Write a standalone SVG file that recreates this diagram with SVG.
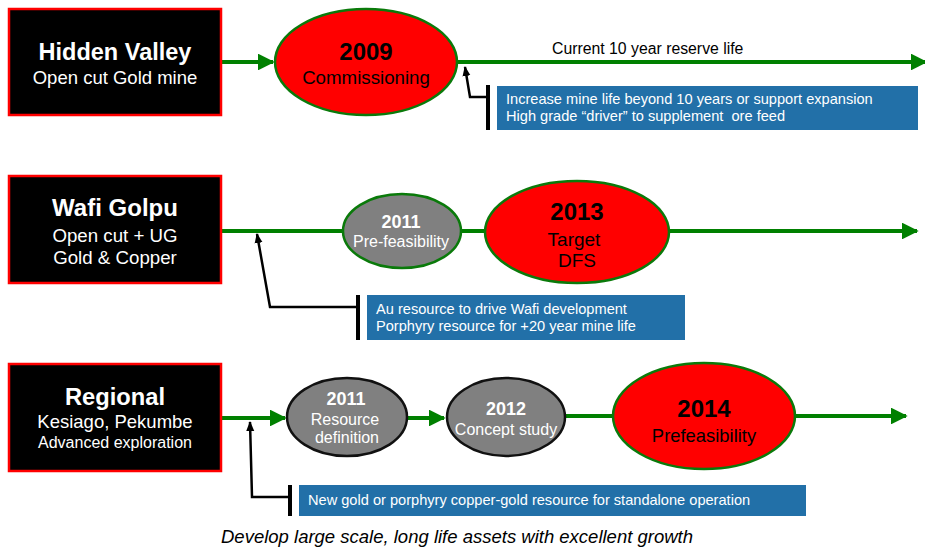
<svg xmlns="http://www.w3.org/2000/svg" width="925" height="549" viewBox="0 0 925 549">
<defs>
<marker id="ga" viewBox="0 0 10 10" refX="9" refY="5" markerWidth="4.2" markerHeight="4.2" orient="auto" markerUnits="strokeWidth"><path d="M0,0 L10,5 L0,10 z" fill="#008000"/></marker>
<marker id="ka" viewBox="0 0 10 10" refX="9" refY="5" markerWidth="4" markerHeight="4" orient="auto" markerUnits="strokeWidth"><path d="M0,1 L10,5 L0,9 z" fill="#000"/></marker>
</defs>
<style>
text{font-family:"Liberation Sans",Arial,sans-serif}
.box{fill:#000;stroke:#ff0000;stroke-width:2.5}
.red{fill:#ff0000;stroke:#0a7a0a;stroke-width:2.5}
.grey{fill:#808080;stroke:#0a7a0a;stroke-width:2.5}
.greyk{fill:#808080;stroke:#111;stroke-width:2.5}
.gl{stroke:#008000;stroke-width:4;fill:none}
.kl{stroke:#000;stroke-width:2.5;fill:none}
.bar{stroke:#000;stroke-width:4}
.note{fill:#2270a8}
.w{fill:#fff}
.b{fill:#000}
.nt{fill:#fff;font-size:14.6px;white-space:pre}
</style>
<g id="connectors">
<line class="gl" x1="221" y1="62" x2="273" y2="62" marker-end="url(#ga)"/>
<line class="gl" x1="457" y1="62" x2="926" y2="62" marker-end="url(#ga)"/>
<line class="gl" x1="221" y1="231" x2="343" y2="231"/>
<line class="gl" x1="461" y1="231" x2="486" y2="231"/>
<line class="gl" x1="669" y1="231" x2="917" y2="231" marker-end="url(#ga)"/>
<line class="gl" x1="221" y1="418" x2="285" y2="418" marker-end="url(#ga)"/>
<line class="gl" x1="407" y1="418" x2="444" y2="418" marker-end="url(#ga)"/>
<line class="gl" x1="565" y1="416" x2="613" y2="416"/>
<line class="gl" x1="795" y1="416" x2="906" y2="416" marker-end="url(#ga)"/>
<path class="kl" d="M488,97 L470,97 L465,67" marker-end="url(#ka)"/>
<path class="kl" d="M358,307 L270,307 L257,234" marker-end="url(#ka)"/>
<path class="kl" d="M290,497 L252,497 L250,422" marker-end="url(#ka)"/>
<line class="bar" x1="488" y1="85" x2="488" y2="130"/>
<line class="bar" x1="358" y1="295" x2="358" y2="340"/>
<line class="bar" x1="290" y1="485" x2="290" y2="516"/>
</g>
<g id="hidden-valley">
<rect class="box" x="9" y="9" width="212" height="106"/>
<text x="115" y="60" text-anchor="middle" class="w" font-size="23.5" font-weight="bold">Hidden Valley</text>
<text x="115" y="84" text-anchor="middle" class="w" font-size="18.5">Open cut Gold mine</text>
</g>
<g id="n2009">
<ellipse class="red" cx="366" cy="62" rx="91" ry="53"/>
<text x="366" y="60" text-anchor="middle" class="b" font-size="24" font-weight="bold">2009</text>
<text x="366" y="84" text-anchor="middle" class="b" font-size="18.7">Commissioning</text>
</g>
<g id="reserve-label">
<text x="552" y="54" class="b" font-size="15.8">Current 10 year reserve life</text>
</g>
<g id="note1">
<rect class="note" x="497" y="86" width="421" height="44"/>
<text x="506" y="104" class="nt">Increase mine life beyond 10 years or support expansion</text>
<text x="506" y="121" class="nt">High grade “driver” to supplement  ore feed</text>
</g>
<g id="wafi-golpu">
<rect class="box" x="9" y="176" width="212" height="107"/>
<text x="115" y="216" text-anchor="middle" class="w" font-size="24" font-weight="bold">Wafi Golpu</text>
<text x="115" y="242" text-anchor="middle" class="w" font-size="18.7">Open cut + UG</text>
<text x="115" y="264" text-anchor="middle" class="w" font-size="18.7">Gold &amp; Copper</text>
</g>
<g id="n2011a">
<ellipse class="grey" cx="402" cy="231" rx="59" ry="37"/>
<text x="401" y="228" text-anchor="middle" class="w" font-size="18" font-weight="bold">2011</text>
<text x="401" y="247" text-anchor="middle" class="w" font-size="16">Pre-feasibility</text>
</g>
<g id="n2013">
<ellipse class="red" cx="577" cy="232" rx="92" ry="51"/>
<text x="577" y="220" text-anchor="middle" class="b" font-size="24" font-weight="bold">2013</text>
<text x="574" y="246" text-anchor="middle" class="b" font-size="19">Target</text>
<text x="577" y="267" text-anchor="middle" class="b" font-size="19">DFS</text>
</g>
<g id="note2">
<rect class="note" x="367" y="295" width="318" height="45"/>
<text x="376" y="314" class="nt">Au resource to drive Wafi development</text>
<text x="376" y="331" class="nt">Porphyry resource for +20 year mine life</text>
</g>
<g id="regional">
<rect class="box" x="9" y="364" width="212" height="107"/>
<text x="115" y="405" text-anchor="middle" class="w" font-size="23.7" font-weight="bold">Regional</text>
<text x="115" y="428" text-anchor="middle" class="w" font-size="18.5">Kesiago, Pekumbe</text>
<text x="115" y="448" text-anchor="middle" class="w" font-size="16">Advanced exploration</text>
</g>
<g id="n2011b">
<ellipse class="greyk" cx="347" cy="417" rx="60" ry="39"/>
<text x="346" y="405" text-anchor="middle" class="w" font-size="18" font-weight="bold">2011</text>
<text x="345" y="425" text-anchor="middle" class="w" font-size="16">Resource</text>
<text x="347" y="443" text-anchor="middle" class="w" font-size="16">definition</text>
</g>
<g id="n2012">
<ellipse class="greyk" cx="506" cy="417" rx="59" ry="39"/>
<text x="506" y="415" text-anchor="middle" class="w" font-size="18" font-weight="bold">2012</text>
<text x="506" y="435" text-anchor="middle" class="w" font-size="16">Concept study</text>
</g>
<g id="n2014">
<ellipse class="red" cx="704" cy="416" rx="91" ry="53"/>
<text x="704" y="417" text-anchor="middle" class="b" font-size="24" font-weight="bold">2014</text>
<text x="704" y="442" text-anchor="middle" class="b" font-size="18.4">Prefeasibility</text>
</g>
<g id="note3">
<rect class="note" x="299" y="485" width="507" height="31"/>
<text x="308" y="505" class="nt">New gold or porphyry copper-gold resource for standalone operation</text>
</g>
<g id="footer">
<text x="221" y="543" class="b" font-size="18.5" font-style="italic">Develop large scale, long life assets with excellent growth</text>
</g>
</svg>
